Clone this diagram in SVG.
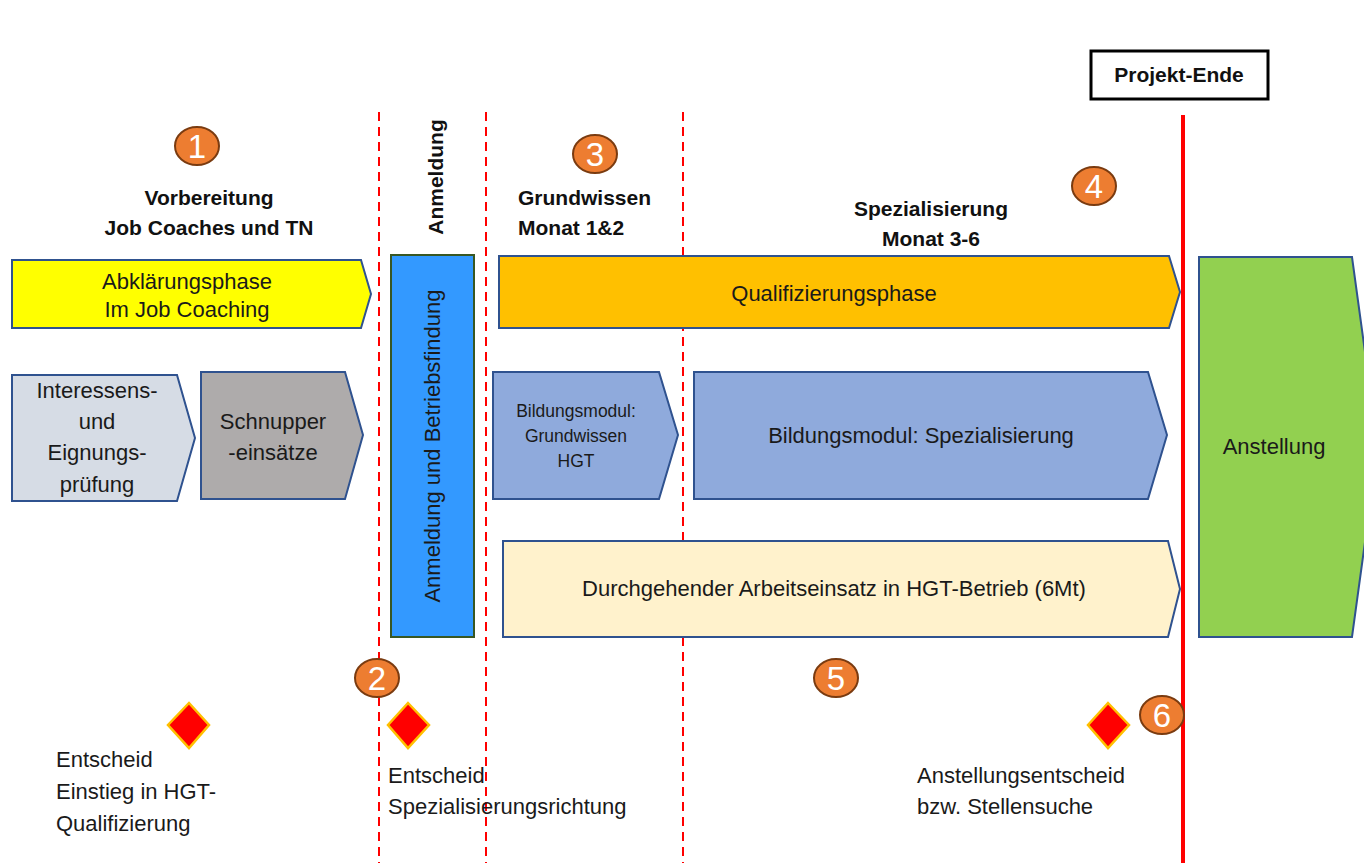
<svg xmlns="http://www.w3.org/2000/svg" width="1364" height="863" viewBox="0 0 1364 863">
<style>
.sh{stroke:#2F528F;stroke-width:2}
.t{font-family:"Liberation Sans",Arial,sans-serif;font-size:22px;fill:#1a1a1a;text-anchor:middle}
.b{font-family:"Liberation Sans",Arial,sans-serif;font-size:21px;font-weight:bold;fill:#111;text-anchor:middle}
.l{font-family:"Liberation Sans",Arial,sans-serif;font-size:22px;fill:#1a1a1a}
.num{font-family:"Liberation Sans",Arial,sans-serif;font-size:33px;fill:#fff;text-anchor:middle}
.c{fill:#ED7D31;stroke:#7A3B10;stroke-width:2}
.d{fill:#FF0000;stroke:#FFC000;stroke-width:2.5}
.dash{stroke:#FF0000;stroke-width:2;stroke-dasharray:9,6;fill:none}
</style>
<rect width="1364" height="863" fill="#fff"/>
<g id="connectors">
<line class="dash" x1="379" y1="112" x2="379" y2="863"/>
<line class="dash" x1="486" y1="112" x2="486" y2="863"/>
<line class="dash" x1="683" y1="112" x2="683" y2="863"/>
<line x1="1183" y1="115" x2="1183" y2="863" stroke="#FF0000" stroke-width="4"/>
</g>
<g id="projekt-ende">
<rect x="1091" y="51" width="177" height="48" fill="#fff" stroke="#000" stroke-width="3"/>
<text class="b" x="1179" y="82">Projekt-Ende</text>
</g>
<g id="header1">
<ellipse class="c" cx="197" cy="146" rx="22" ry="19"/>
<text class="num" x="197" y="158">1</text>
<text class="b" x="209" y="205">Vorbereitung</text>
<text class="b" x="209" y="235">Job Coaches und TN</text>
</g>
<g id="header-anmeldung">
<text class="b" transform="translate(443,177) rotate(-90)">Anmeldung</text>
</g>
<g id="header3">
<ellipse class="c" cx="595" cy="154" rx="22" ry="19"/>
<text class="num" x="595" y="166">3</text>
<text class="b" x="518" y="205" style="text-anchor:start">Grundwissen</text>
<text class="b" x="518" y="235" style="text-anchor:start">Monat 1&amp;2</text>
</g>
<g id="header4">
<ellipse class="c" cx="1094" cy="186" rx="22" ry="19"/>
<text class="num" x="1094" y="198">4</text>
<text class="b" x="931" y="216">Spezialisierung</text>
<text class="b" x="931" y="246">Monat 3-6</text>
</g>
<g id="abklaerung">
<polygon class="sh" fill="#FFFF00" points="12,260 361,260 371,294 361,328 12,328"/>
<text class="t" x="187" y="289">Abklärungsphase</text>
<text class="t" x="187" y="317">Im Job Coaching</text>
</g>
<g id="interessens">
<polygon class="sh" fill="#D6DCE5" points="12,375 177,375 195,438 177,501 12,501"/>
<text class="t" x="97" y="398">Interessens-</text>
<text class="t" x="97" y="429">und</text>
<text class="t" x="97" y="460">Eignungs-</text>
<text class="t" x="97" y="492">prüfung</text>
</g>
<g id="schnupper">
<polygon class="sh" fill="#AEABAB" points="201,372 345,372 363,435 345,499 201,499"/>
<text class="t" x="273" y="429">Schnupper</text>
<text class="t" x="273" y="460">-einsätze</text>
</g>
<g id="anmeldung">
<rect x="391" y="255" width="83" height="382" fill="#3399FF" stroke="#385723" stroke-width="2"/>
<text class="t" transform="translate(440,446) rotate(-90)">Anmeldung und Betriebsfindung</text>
</g>
<g id="qualifizierung">
<polygon class="sh" fill="#FFC000" points="499,256 1169,256 1180,292 1169,328 499,328"/>
<text class="t" x="834" y="301">Qualifizierungsphase</text>
</g>
<g id="bm-grundwissen">
<polygon class="sh" fill="#8FAADC" points="493,372 659,372 678,435 659,499 493,499"/>
<text class="t" x="576" y="417" style="font-size:17.5px">Bildungsmodul:</text>
<text class="t" x="576" y="442" style="font-size:17.5px">Grundwissen</text>
<text class="t" x="576" y="467" style="font-size:17.5px">HGT</text>
</g>
<g id="bm-spezialisierung">
<polygon class="sh" fill="#8FAADC" points="694,372 1148,372 1167,435 1148,499 694,499"/>
<text class="t" x="921" y="443">Bildungsmodul: Spezialisierung</text>
</g>
<g id="arbeitseinsatz">
<polygon class="sh" fill="#FFF2CC" points="503,541 1168,541 1180,589 1168,637 503,637"/>
<text class="t" x="834" y="596">Durchgehender Arbeitseinsatz in HGT-Betrieb (6Mt)</text>
</g>
<g id="anstellung">
<polygon class="sh" fill="#92D050" points="1199,257 1352,257 1378,447 1352,637 1199,637"/>
<text class="t" x="1274" y="454">Anstellung</text>
</g>
<g id="m2">
<ellipse class="c" cx="377" cy="678" rx="22" ry="19"/>
<text class="num" x="377" y="690">2</text>
</g>
<g id="m5">
<ellipse class="c" cx="836" cy="678" rx="22" ry="19"/>
<text class="num" x="836" y="690">5</text>
</g>
<g id="m6">
<ellipse class="c" cx="1162" cy="715" rx="22" ry="19"/>
<text class="num" x="1162" y="727">6</text>
</g>
<g id="entscheid1">
<polygon class="d" points="189,703 209,725 189,748 168,725"/>
<text class="l" x="56" y="767">Entscheid</text>
<text class="l" x="56" y="799">Einstieg in HGT-</text>
<text class="l" x="56" y="831">Qualifizierung</text>
</g>
<g id="entscheid2">
<polygon class="d" points="408,703 429,725 408,748 388,725"/>
<text class="l" x="388" y="783">Entscheid</text>
<text class="l" x="388" y="814">Spezialisierungsrichtung</text>
</g>
<g id="entscheid3">
<polygon class="d" points="1108,703 1129,725 1108,748 1088,725"/>
<text class="l" x="917" y="783">Anstellungsentscheid</text>
<text class="l" x="917" y="814">bzw. Stellensuche</text>
</g>
</svg>
